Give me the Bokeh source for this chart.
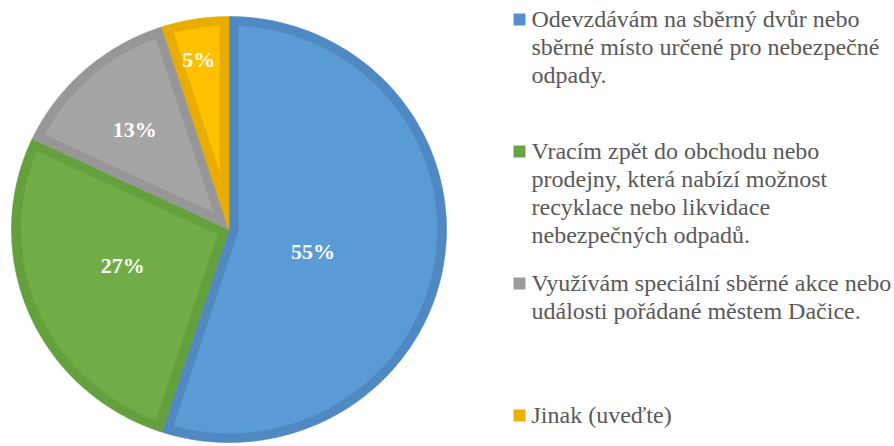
import numpy as np
from bokeh.plotting import figure
from bokeh.models import Range1d
from bokeh.embed import file_html
from bokeh.resources import INLINE
from bokeh.core.properties import value

# ---- data ----
categories = [
    "Odevzdávám na sběrný dvůr nebo sběrné místo určené pro nebezpečné odpady.",
    "Vracím zpět do obchodu nebo prodejny, která nabízí možnost recyklace nebo likvidace nebezpečných odpadů.",
    "Využívám speciální sběrné akce nebo události pořádané městem Dačice.",
    "Jinak (uveďte)",
]
legend_lines = [
    ["Odevzdávám na sběrný dvůr nebo", "sběrné místo určené pro nebezpečné", "odpady."],
    ["Vracím zpět do obchodu nebo", "prodejny, která nabízí možnost", "recyklace nebo likvidace", "nebezpečných odpadů."],
    ["Využívám speciální sběrné akce nebo", "události pořádané městem Dačice."],
    ["Jinak (uveďte)"],
]
shares = [55, 27, 13, 5]
labels = ["55%", "27%", "13%", "5%"]

# ---- style / layout ----
FONT = "Liberation Serif"
fill_colors = ["#5B9BD5", "#70AD47", "#A5A5A5", "#FFC000"]
edge_colors = ["#5089C1", "#64A03E", "#979797", "#E8AD00"]
key_colors = ["#5790CB", "#69A542", "#9C9C9C", "#EBB000"]
label_r = [0.404, 0.522, 0.630, 0.795]
label_da = np.radians([8.0, 2.8, -2.0, -1.1])
TEXT_SHIFT = -8.0
LABEL_SHIFT = -10.5

W, H = 894, 446
cx, cy = 228.5, 229.0
rx, ry = 217.5, 213.0
d = 9.5 / 217.0

p = figure(width=W, height=H, output_backend="svg", toolbar_location=None,
           x_range=Range1d(0, W), y_range=Range1d(H, 0),
           min_border=0, background_fill_color="white", border_fill_color="white")
p.axis.visible = False
p.grid.visible = False
p.outline_line_color = None


def u(a):
    return np.sin(a), np.cos(a)


def to_screen(X, Y):
    return list(cx + np.asarray(X) * rx), list(cy - np.asarray(Y) * ry)


fr = np.array(shares, dtype=float) / sum(shares)
ends = np.cumsum(fr) * 2 * np.pi
starts = ends - fr * 2 * np.pi

oxs, oys, ixs, iys = [], [], [], []
for a0, a1 in zip(starts, ends):
    ang = np.linspace(a0, a1, 200)
    X = np.concatenate([[0.0], np.sin(ang)])
    Y = np.concatenate([[0.0], np.cos(ang)])
    sx, sy = to_screen(X, Y)
    oxs.append(sx); oys.append(sy)

    th = a1 - a0
    ri = 1.0 - d
    da = np.arcsin(d / ri)
    ang_i = np.linspace(a0 + da, a1 - da, 200)
    X = list(ri * np.sin(ang_i)); Y = list(ri * np.cos(ang_i))
    if th < np.pi:
        rr = d / np.sin(th / 2)
        mx, my = u((a0 + a1) / 2)
        X.append(rr * mx); Y.append(rr * my)
    else:
        apex = np.linspace(a1 - np.pi / 2, a0 + np.pi / 2, 60)
        X += list(d * np.sin(apex)); Y += list(d * np.cos(apex))
    sx, sy = to_screen(X, Y)
    ixs.append(sx); iys.append(sy)

p.patches(xs=oxs, ys=oys, fill_color=edge_colors, line_color=edge_colors, line_width=0.6)
p.patches(xs=ixs, ys=iys, fill_color=fill_colors, line_color=fill_colors, line_width=0.5)

# percentage labels
mids = (starts + ends) / 2 + label_da
lx = [cx + r * np.sin(a) * rx for r, a in zip(label_r, mids)]
ly = [cy - r * np.cos(a) * ry + 7.5 + LABEL_SHIFT for r, a in zip(label_r, mids)]
p.text(x=lx, y=ly, text=labels, text_color="white", text_font=value(FONT),
       text_font_style="bold", text_font_size="22px", text_align="center",
       text_baseline="alphabetic")

# legend
leg_x_key, leg_x_text = 519, 531
first_base, item_gap, line_gap = 26, 132, 28
kx, ky, tx, ty, tt = [], [], [], [], []
for i, lines in enumerate(legend_lines):
    base = first_base + item_gap * i
    kx.append(leg_x_key); ky.append(base - 7)
    for j, line in enumerate(lines):
        tx.append(leg_x_text); ty.append(base + line_gap * j + TEXT_SHIFT); tt.append(line)

p.scatter(x=kx, y=ky, marker="square", size=12, fill_color=key_colors, line_color=key_colors, line_width=0)
p.text(x=tx, y=ty, text=tt, text_color="#595959", text_font=value(FONT),
       text_font_size="24px", text_align="left", text_baseline="alphabetic")

open("out.html", "w").write(file_html(p, INLINE))
